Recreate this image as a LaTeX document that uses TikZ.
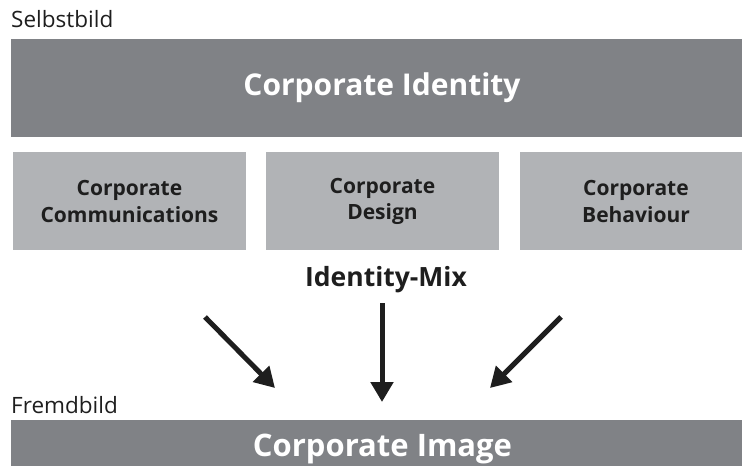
\documentclass[tikz,border=0pt]{standalone}
\usepackage{fontspec}
\setmainfont{Open Sans}
\usetikzlibrary{arrows.meta}
\definecolor{darkgr}{RGB}{128,130,134}
\definecolor{lightgr}{RGB}{177,179,182}
\definecolor{txt}{RGB}{30,30,30}
\tikzset{
  bigbox/.style={fill=darkgr, draw=none, minimum width=742pt, text=white, font=\bfseries\fontsize{30}{34}\selectfont, inner sep=0pt},
  subbox/.style={fill=lightgr, draw=none, minimum width=233pt, minimum height=98pt, text=txt, align=center, font=\bfseries\fontsize{21}{27}\selectfont, inner sep=0pt},
  side/.style={anchor=base west, text=txt, font=\fontsize{22.5}{26}\selectfont, inner sep=0pt},
  bigarrow/.style={line width=5pt, txt, -{Triangle[length=20pt,width=22pt]}}
}
\begin{document}
\begin{tikzpicture}[x=1pt,y=-1pt]
\useasboundingbox (0,0) rectangle (742,466);
\clip (0,0) rectangle (742,466);
\node[side] (sel) at (11,27) {Selbstbild};
\node[bigbox, minimum height=98pt] (ci) at (382,88) {Corporate Identity};
\node[subbox] (cc) at (129.5,201) {Corporate\\Communications};
\node[subbox] (cd) at (382.5,201) {\raisebox{3pt}{\begin{tabular}{@{}c@{}}Corporate\\[-1pt]Design\end{tabular}}};
\node[subbox] (cb) at (636,201) {Corporate\\Behaviour};
\node[anchor=base, text=txt, font=\bfseries\fontsize{26.5}{30}\selectfont, inner sep=0pt] (mix) at (386,286) {Identity-Mix};
\node[side] (frem) at (11,413) {Fremdbild};
\node[bigbox, minimum height=60pt, anchor=north] (cimg) at (382,419.5) {};
\node[anchor=base, text=white, font=\bfseries\fontsize{31}{34}\selectfont, inner sep=0pt] (cimgt) at (382.5,456) {Corporate Image};
\coordinate (l1) at (205,317);
\coordinate (l2) at (275,388);
\coordinate (m1) at (382,303);
\coordinate (m2) at (382,402);
\coordinate (r1) at (561,317);
\coordinate (r2) at (490,388);
\draw[bigarrow] (l1) -- (l2);
\draw[bigarrow] (m1) -- (m2);
\draw[bigarrow] (r1) -- (r2);
\end{tikzpicture}
\end{document}
